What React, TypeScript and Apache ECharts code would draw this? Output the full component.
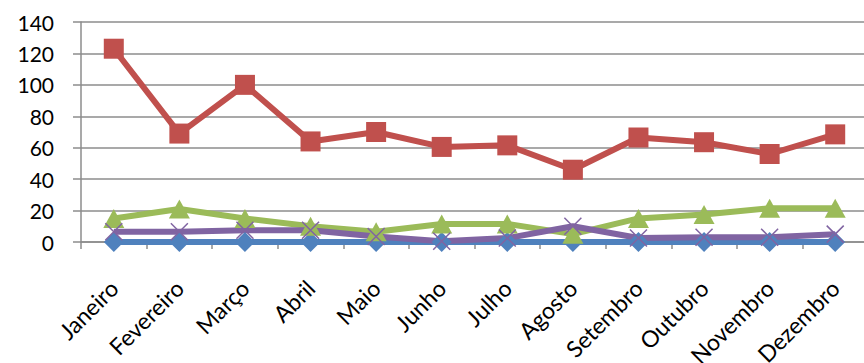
import React, { useEffect, useRef } from "react";
import * as echarts from "echarts";

const categories = ["Janeiro", "Fevereiro", "Março", "Abril", "Maio", "Junho", "Julho", "Agosto", "Setembro", "Outubro", "Novembro", "Dezembro"];
const blueValues = [0, 0, 0, 0, 0, 0, 0, 0, 0, 0, 0, 0];
const redValues = [123, 69, 100, 64, 70, 60.5, 61.5, 46, 66.5, 63.5, 56, 68.5];
const greenValues = [15, 21, 15, 10, 6.5, 11.5, 11.5, 5, 15, 17.5, 21.5, 21.5];
const purpleValues = [6.5, 6.5, 7.5, 7.5, 3.5, 0.5, 2.5, 10, 2.5, 3, 3, 5];
const yTicks = { min: 0, max: 140, interval: 20 };

const FONT = "Lato";

export default function App() {
  const ref = useRef<HTMLDivElement>(null);
  useEffect(() => {
    const chart = echarts.init(ref.current!, null, { renderer: "svg" });
    const xMark = "path://M0,0 L10,10 M10,0 L0,10";
    const mk = (name: string, data: number[], color: string, symbol: string, size: any, extra: any = {}) => ({
      name,
      type: "line",
      data,
      symbol,
      symbolSize: size,
      showSymbol: true,
      lineStyle: { color, width: 6 },
      itemStyle: { color, ...extra },
      emphasis: { disabled: true },
    });
    chart.setOption({
      animation: false,
      textStyle: { fontFamily: FONT },
      grid: { left: 81, top: 22, bottom: 121, right: -4, containLabel: false, outerBoundsMode: "none" },
      xAxis: {
        type: "category",
        data: categories,
        boundaryGap: true,
        axisLine: { show: true, lineStyle: { color: "#8c8c8c", width: 1.5 } },
        axisTick: { show: true, length: 7, alignWithLabel: false, lineStyle: { color: "#8c8c8c", width: 1.5 } },
        axisLabel: { rotate: 45, margin: 42, fontSize: 23, color: "#000", fontFamily: FONT, interval: 0 },
        splitLine: { show: false },
      },
      yAxis: {
        type: "value",
        min: yTicks.min,
        max: yTicks.max,
        interval: yTicks.interval,
        axisLine: { show: true, lineStyle: { color: "#8c8c8c", width: 1.5 } },
        axisTick: { show: true, length: 8, lineStyle: { color: "#8c8c8c", width: 1.5 } },
        axisLabel: { margin: 27, fontSize: 21, color: "#000", fontFamily: FONT },
        splitLine: { show: true, lineStyle: { color: "#8c8c8c", width: 1.5 } },
      },
      series: [
        mk("Azul", blueValues, "#4F81BD", "diamond", 20),
        mk("Vermelho", redValues, "#C0504D", "rect", 20),
        mk("Verde", greenValues, "#9BBB59", "triangle", [21, 19]),
        mk("Roxo", purpleValues, "#8064A2", xMark, 17, { borderColor: "#8064A2", borderWidth: 1.5 }),
      ],
    });
    return () => chart.dispose();
  }, []);
  return <div ref={ref} style={{ width: 864, height: 363, position: "absolute", left: 0, top: 0 }} />;
}
